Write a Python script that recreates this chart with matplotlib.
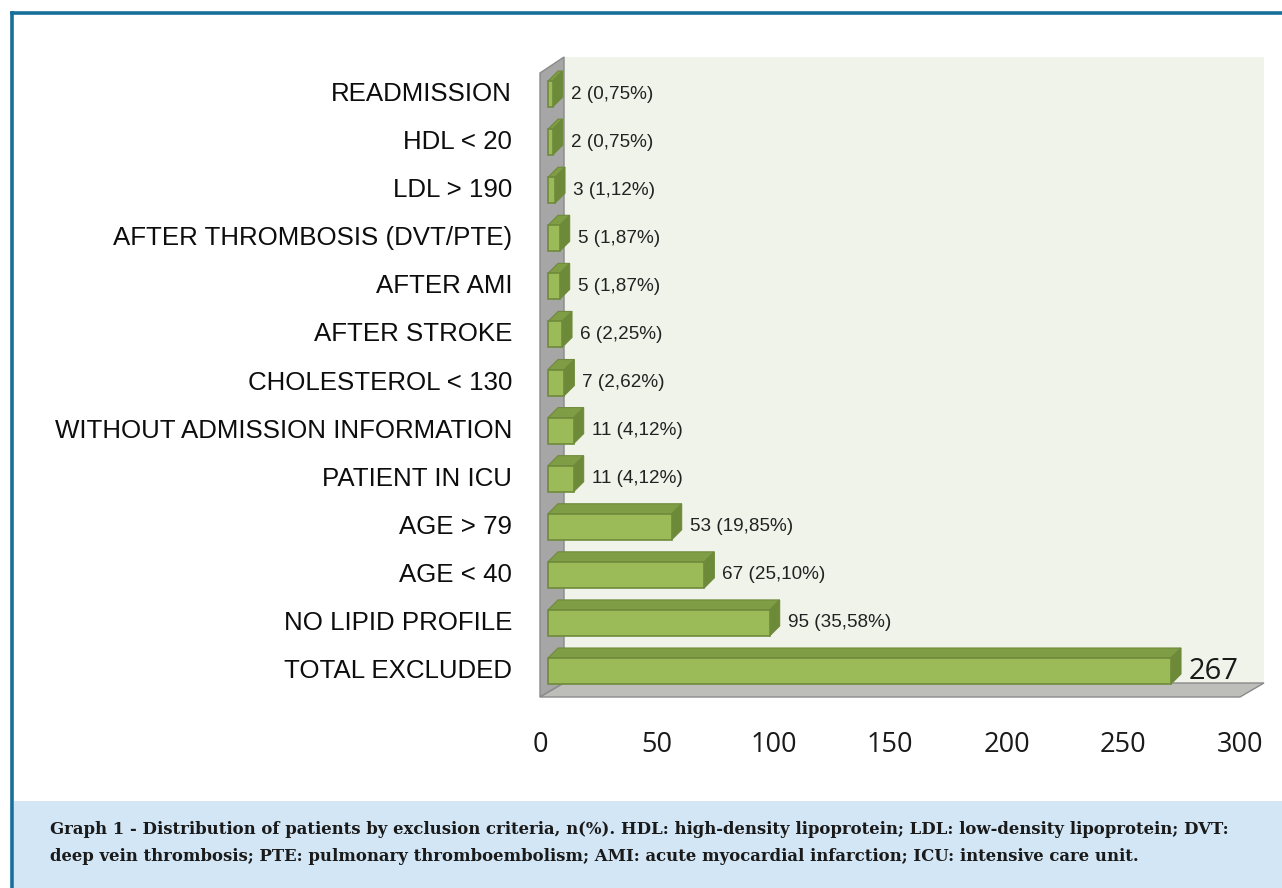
import matplotlib
matplotlib.use("Agg")
import matplotlib.pyplot as plt
from matplotlib.patches import Polygon, Rectangle
from matplotlib.lines import Line2D

# data, bottom to top as drawn
categories = ["TOTAL EXCLUDED", "NO LIPID PROFILE", "AGE < 40", "AGE > 79",
              "PATIENT IN ICU", "WITHOUT ADMISSION INFORMATION",
              "CHOLESTEROL < 130", "AFTER STROKE", "AFTER AMI",
              "AFTER THROMBOSIS (DVT/PTE)", "LDL > 190", "HDL < 20",
              "READMISSION"]
counts = [267, 95, 67, 53, 11, 11, 7, 6, 5, 5, 3, 2, 2]
percents = [None, "35,58%", "25,10%", "19,85%", "4,12%", "4,12%", "2,62%",
            "2,25%", "1,87%", "1,87%", "1,12%", "0,75%", "0,75%"]
xticks = [0, 50, 100, 150, 200, 250, 300]

W, H = 1282, 888
fig = plt.figure(figsize=(W / 100, H / 100), dpi=100)
fig.patch.set_facecolor("white")

# page frame and caption box
blue = "#17709b"
fig.add_artist(Line2D([12 / W, 1], [1 - 13 / H, 1 - 13 / H], color=blue, lw=2.6))
fig.add_artist(Line2D([12 / W, 12 / W], [0, 1 - 13 / H], color=blue, lw=2.6))
fig.add_artist(Rectangle((14 / W, 0), 1 - 14 / W, 87 / H, transform=fig.transFigure,
                         facecolor="#d2e6f5", edgecolor="none"))
caption = ("Graph 1 - Distribution of patients by exclusion criteria, n(%). HDL: high-density "
           "lipoprotein; LDL: low-density lipoprotein; DVT:\n"
           "deep vein thrombosis; PTE: pulmonary thromboembolism; AMI: acute myocardial "
           "infarction; ICU: intensive care unit.")
fig.text(50 / W, 1 - 843 / H, caption, ha="left", va="center", fontsize=11.9,
         fontweight="bold", family="DejaVu Serif", color="#1a1a1a", linespacing=1.7)

# axes placed in pixels: x=0 sits at the floor's front-left corner
ax_l, ax_r, ax_t, ax_b = 525, 1275, 50, 710
ax = fig.add_axes([ax_l / W, 1 - ax_b / H, (ax_r - ax_l) / W, (ax_b - ax_t) / H])
sx = 700 / 300.0       # px per unit
sy = 48.08             # px per category
ax.set_xlim(-(540 - ax_l) / sx, (ax_r - 540) / sx)
ax.set_ylim(-(ax_b - 671) / sy, (671 - ax_t) / sy)
ax.axis("off")
ax.set_facecolor("none")

# fake 3D box: back wall, left wall, floor
dep_x, dep_y = 24 / sx, 14 / sy
y_front, y_back = -26 / sy, -26 / sy + dep_y
top_front, top_back = (671 - 73) / sy, (671 - 57) / sy
x_end = xticks[-1]
ax.add_patch(Polygon([(dep_x, y_back), (x_end + dep_x, y_back),
                      (x_end + dep_x, top_back), (dep_x, top_back)],
                     closed=True, facecolor="#f0f3ea", edgecolor="none", zorder=1))
ax.add_patch(Polygon([(0, y_front), (dep_x, y_back), (dep_x, top_back), (0, top_front)],
                     closed=True, facecolor="#a6a6a6", edgecolor="#8a8a8a", lw=1, zorder=2))
ax.add_patch(Polygon([(0, y_front), (x_end, y_front), (x_end + dep_x, y_back), (dep_x, y_back)],
                     closed=True, facecolor="#bdbdb9", edgecolor="#8a8a8a", lw=1, zorder=2))

# bars
b0 = 8 / sx
bh = 26 / sy
ddx, ddy = 10 / sx, 10 / sy
front_c, top_c, side_c, edge_c = "#9bbb59", "#7f9d45", "#6c8a38", "#6f8a3c"
for i, v in enumerate(counts):
    y0, y1 = i - bh / 2, i + bh / 2
    ax.add_patch(Polygon([(b0, y1), (b0 + v, y1), (b0 + v + ddx, y1 + ddy), (b0 + ddx, y1 + ddy)],
                         closed=True, facecolor=top_c, edgecolor=edge_c, lw=0.8, zorder=4))
    ax.add_patch(Polygon([(b0 + v, y0), (b0 + v + ddx, y0 + ddy), (b0 + v + ddx, y1 + ddy), (b0 + v, y1)],
                         closed=True, facecolor=side_c, edgecolor=edge_c, lw=0.8, zorder=4))
    ax.barh(i, v, left=b0, height=bh, color=front_c, edgecolor=edge_c, lw=1.2, zorder=5)
    lx = b0 + v + ddx + 8 / sx
    if percents[i] is None:
        ax.text(lx, i, str(v), ha="left", va="center", fontsize=21, family="Open Sans",
                color="#1a1a1a", zorder=6)
    else:
        ax.text(lx, i, f"{v} ({percents[i]})", ha="left", va="center", fontsize=13.6,
                family="Liberation Sans", color="#222222", zorder=6)

# category labels
for i, name in enumerate(categories):
    ax.text(-(540 - 512) / sx, i, name, ha="right", va="center", fontsize=18.6,
            family="Liberation Sans", color="#0d0d0d")

# value axis labels along the floor front edge
for t in xticks:
    ax.text(t, -(745 - 671) / sy, str(t), ha="center", va="center", fontsize=19.5,
            family="Open Sans", color="#1a1a1a")

fig.savefig("out.png", dpi=100)
